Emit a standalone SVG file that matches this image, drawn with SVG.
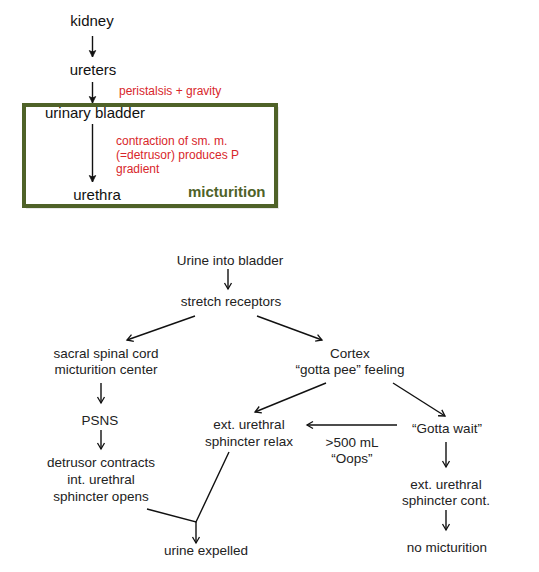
<svg xmlns="http://www.w3.org/2000/svg" width="539" height="572" viewBox="0 0 539 572">
<defs>
<marker id="ah" markerWidth="10" markerHeight="10" refX="7" refY="5" orient="auto" markerUnits="userSpaceOnUse">
<path d="M1,1.5 L7,5 L1,8.5" fill="none" stroke="#111" stroke-width="1.3"/>
</marker>
<marker id="af" markerWidth="10" markerHeight="10" refX="7" refY="5" orient="auto" markerUnits="userSpaceOnUse">
<path d="M0.5,1.8 L7,5 L0.5,8.2 L2,5 Z" fill="#111" stroke="#111" stroke-width="0.8"/>
</marker>
</defs>
<style>
.t{font-family:"Liberation Sans",Arial,sans-serif;font-size:15px;fill:#111;text-anchor:middle}
.s{font-family:"Liberation Sans",Arial,sans-serif;font-size:13.5px;fill:#222;text-anchor:middle}
.r{font-family:"Liberation Sans",Arial,sans-serif;font-size:12px;fill:#d8262b}
.g{font-family:"Liberation Sans",Arial,sans-serif;font-size:15px;font-weight:bold;fill:#4f6228}
.c{stroke:#111;stroke-width:1.4;fill:none}
.ca{stroke:#111;stroke-width:1.4;fill:none;marker-end:url(#ah)}
.cf{stroke:#111;stroke-width:1.4;fill:none;marker-end:url(#af)}
</style>
<rect width="539" height="572" fill="#fff"/>
<g id="micturition-box">
<rect x="26" y="107" width="253" height="102" fill="#d8d8d8" opacity="0.6"/>
<rect x="24" y="105" width="252" height="101" fill="#fff" stroke="#4f6228" stroke-width="4"/>
<text class="g" x="188" y="197">micturition</text>
</g>
<g id="kidney"><text class="t" x="92" y="26">kidney</text></g>
<g id="ureters"><text class="t" x="93" y="75">ureters</text></g>
<g id="bladder"><text class="t" x="95" y="118">urinary bladder</text></g>
<g id="urethra"><text class="t" x="97" y="200">urethra</text></g>
<g id="label-peristalsis"><text class="r" x="119" y="95">peristalsis + gravity</text></g>
<g id="label-contraction">
<text class="r" x="116" y="145">contraction of sm. m.</text>
<text class="r" x="116" y="159">(=detrusor) produces P</text>
<text class="r" x="116" y="173">gradient</text>
</g>
<g id="urine-into-bladder"><text class="s" x="230" y="265">Urine into bladder</text></g>
<g id="stretch-receptors"><text class="s" x="231" y="306">stretch receptors</text></g>
<g id="sacral">
<text class="s" x="106" y="358">sacral spinal cord</text>
<text class="s" x="106" y="374">micturition center</text>
</g>
<g id="cortex">
<text class="s" x="350" y="358">Cortex</text>
<text class="s" x="350" y="374">“gotta pee” feeling</text>
</g>
<g id="psns"><text class="s" x="100" y="425">PSNS</text></g>
<g id="detrusor">
<text class="s" x="101" y="467">detrusor contracts</text>
<text class="s" x="101" y="484">int. urethral</text>
<text class="s" x="101" y="501">sphincter opens</text>
</g>
<g id="ext-relax">
<text class="s" x="249" y="429">ext. urethral</text>
<text class="s" x="249" y="446">sphincter relax</text>
</g>
<g id="label-oops">
<text class="s" x="352" y="447">&gt;500 mL</text>
<text class="s" x="352" y="463">“Oops”</text>
</g>
<g id="gotta-wait"><text class="s" x="447" y="433">“Gotta wait”</text></g>
<g id="ext-cont">
<text class="s" x="446" y="489">ext. urethral</text>
<text class="s" x="446" y="505">sphincter cont.</text>
</g>
<g id="no-micturition"><text class="s" x="447" y="552">no micturition</text></g>
<g id="urine-expelled"><text class="s" x="206" y="555">urine expelled</text></g>
<g id="connectors">
<line class="cf" x1="92.5" y1="36" x2="92.5" y2="57"/>
<line class="cf" x1="92.5" y1="82" x2="92.5" y2="103"/>
<line class="cf" x1="92.5" y1="124" x2="92.5" y2="182"/>
<line class="ca" x1="228" y1="269" x2="228" y2="289"/>
<line class="ca" x1="195" y1="316" x2="127" y2="340"/>
<line class="ca" x1="257" y1="316" x2="322" y2="340"/>
<line class="ca" x1="101" y1="383" x2="101" y2="403"/>
<line class="ca" x1="326" y1="383" x2="255" y2="412"/>
<line class="ca" x1="393" y1="383" x2="445" y2="416"/>
<line class="ca" x1="101" y1="430" x2="101" y2="449"/>
<line class="ca" x1="397" y1="425" x2="307" y2="425"/>
<line class="ca" x1="446" y1="442" x2="446" y2="467"/>
<line class="ca" x1="446" y1="510" x2="446" y2="530"/>
<polyline class="c" points="229,452 196,522 147,509"/>
<line class="ca" x1="196" y1="522" x2="196" y2="543"/>
</g>
</svg>
